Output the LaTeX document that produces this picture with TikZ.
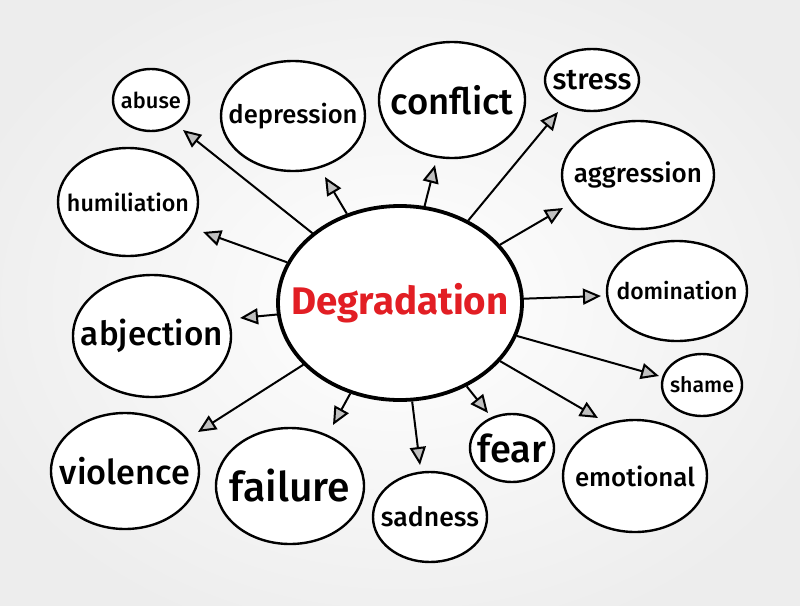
\documentclass[tikz,border=0pt]{standalone}
\usepackage{fontspec}
\usepackage{graphicx}
\setmainfont{Fira Sans}
\newfontfamily\medfont{Fira Sans Medium}
\usetikzlibrary{shapes.geometric,arrows.meta}
\definecolor{degred}{RGB}{226,30,36}
\newcommand{\fitw}[2]{\resizebox{#1pt}{!}{\medfont #2}}
\tikzset{
  bubble/.style={ellipse, draw=black, line width=2.4pt, fill=white, inner sep=0pt},
  hub/.style={ellipse, draw=black, line width=3.8pt, fill=white, inner sep=0pt},
  arr/.style={draw=black, line width=2pt,
    -{Triangle[open, length=18pt, width=16pt, line width=2pt, fill=black!25]}},
}
\begin{document}
\begin{tikzpicture}[x=1pt,y=-1pt]
\useasboundingbox (0,0) rectangle (800,605);
\shade[inner color=white, outer color=black!7] (-60,-50) rectangle (860,655);
% hub
\node[hub, minimum width=244pt, minimum height=194pt,
  label={center:\textcolor{degred}{\resizebox{217pt}{!}{\bfseries Degradation}}}] (deg) at (400,303) {};
% satellites
\node[bubble, minimum width=76pt,  minimum height=62pt,  label={center:\fitw{60}{abuse}}]       (abuse)  at (151,100) {};
\node[bubble, minimum width=144pt, minimum height=110pt, label={center:\fitw{129}{depression}}] (depr)   at (293,116) {};
\node[bubble, minimum width=146pt, minimum height=116pt, label={center:\fitw{123}{conflict}}]   (confl)  at (452,100) {};
\node[bubble, minimum width=94pt,  minimum height=62pt,  label={center:\fitw{79}{stress}}]      (stress) at (592,80)  {};
\node[bubble, minimum width=152pt, minimum height=108pt, label={center:\fitw{128}{aggression}}] (aggr)   at (638,175) {};
\node[bubble, minimum width=140pt, minimum height=100pt, label={center:\fitw{121}{domination}}] (domin)  at (677,291) {};
\node[bubble, minimum width=80pt,  minimum height=62pt,  label={center:\fitw{64}{shame}}]       (shame)  at (702,385) {};
\node[bubble, minimum width=144pt, minimum height=112pt, label={center:\fitw{120}{emotional}}]  (emot)   at (635,476) {};
\node[bubble, minimum width=84pt,  minimum height=68pt,  label={center:\fitw{69}{fear}}]        (fear)   at (512,448) {};
\node[bubble, minimum width=114pt, minimum height=90pt,  label={center:\fitw{98}{sadness}}]     (sad)    at (430,517) {};
\node[bubble, minimum width=148pt, minimum height=116pt, label={center:\fitw{120}{failure}}]    (fail)   at (290,486) {};
\node[bubble, minimum width=148pt, minimum height=116pt, label={center:\fitw{130}{violence}}]   (viol)   at (125,471) {};
\node[bubble, minimum width=158pt, minimum height=122pt, label={center:\fitw{142}{abjection}}]  (abj)    at (152,336) {};
\node[bubble, minimum width=140pt, minimum height=108pt, label={center:\fitw{122}{humiliation}}] (humil) at (128,202) {};
% arrow tips
\coordinate (tAbuse)  at (183,130);
\coordinate (tDepr)   at (325,177);
\coordinate (tHumil)  at (203,232);
\coordinate (tConfl)  at (435,165);
\coordinate (tStress) at (558,112);
\coordinate (tAggr)   at (563,208);
\coordinate (tDomin)  at (601,296);
\coordinate (tShame)  at (659,376);
\coordinate (tEmot)   at (598,418);
\coordinate (tFear)   at (488,413);
\coordinate (tSad)    at (420,465);
\coordinate (tFail)   at (333,425);
\coordinate (tViol)   at (198,432);
\coordinate (tAbj)    at (240,318);
\foreach \t in {tAbuse,tDepr,tHumil,tConfl,tStress,tAggr,tDomin,tShame,tEmot,tFear,tSad,tFail,tViol,tAbj}
  \draw[arr] (deg) -- (\t);
\end{tikzpicture}
\end{document}
